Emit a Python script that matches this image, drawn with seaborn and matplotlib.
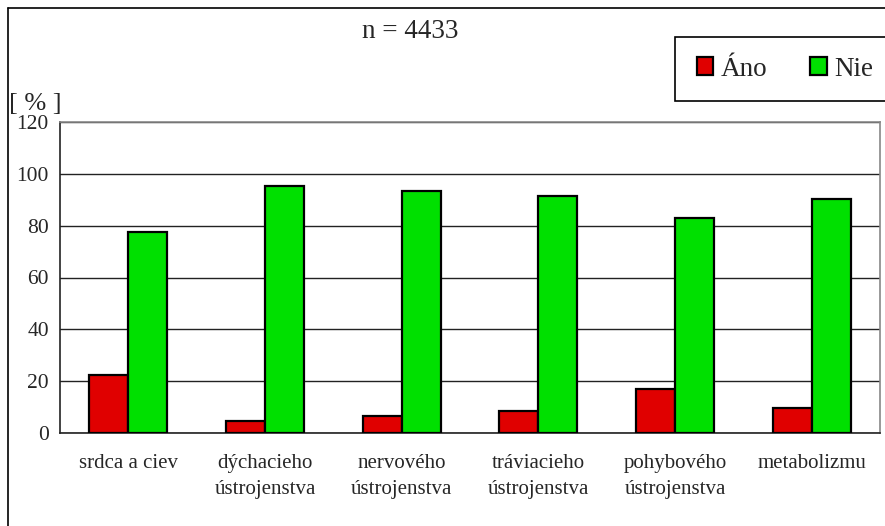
import matplotlib
matplotlib.use("Agg")
import matplotlib.pyplot as plt
from matplotlib.patches import Rectangle
from matplotlib.lines import Line2D
import pandas as pd
import seaborn as sns

kategorie = ["srdca a ciev", "dýchacieho\nústrojenstva", "nervového\nústrojenstva",
             "tráviacieho\nústrojenstva", "pohybového\nústrojenstva", "metabolizmu"]
ano = [22.3, 4.7, 6.6, 8.6, 17.1, 9.7]
nie = [77.7, 95.3, 93.4, 91.4, 82.9, 90.3]
odpovede = ["Áno", "Nie"]
farby = {"Áno": "#e00000", "Nie": "#00e000"}

df = pd.DataFrame({
    "kategoria": kategorie * 2,
    "odpoved": ["Áno"] * len(kategorie) + ["Nie"] * len(kategorie),
    "hodnota": ano + nie,
})

sns.set_style("white")
plt.rcParams["font.family"] = ["Liberation Serif", "DejaVu Serif"]

fig = plt.figure(figsize=(8.85, 5.26), dpi=100)
W, H = 885, 526
ax = fig.add_axes([60 / W, (H - 433) / H, (880 - 60) / W, (433 - 122) / H])

sns.barplot(data=df, x="kategoria", y="hodnota", hue="odpoved", hue_order=odpovede,
            palette=farby, saturation=1, width=0.57, edgecolor="black", linewidth=1.6,
            legend=False, ax=ax, zorder=3)

ax.set_xlim(-0.5, len(kategorie) - 0.5)
ax.set_ylim(0, 120)
ax.set_yticks(range(0, 121, 20))
ax.tick_params(axis="y", labelsize=15.5, direction="out", length=6, width=1, color="#222222", pad=2)
ax.set_xticks(range(len(kategorie)))
ax.set_xticklabels(kategorie, linespacing=1.5)
ax.tick_params(axis="x", which="major", length=0, labelsize=15, pad=15)
ax.set_xticks([i + 0.5 for i in range(-1, len(kategorie))], minor=True)
ax.tick_params(axis="x", which="minor", direction="inout", length=12, width=1, color="#333333")
ax.set_xlabel("")
ax.set_ylabel("")
ax.grid(axis="y", color="#222222", linewidth=1, zorder=0)
ax.spines["left"].set_color("#222222")
ax.spines["bottom"].set_color("#222222")
ax.spines["top"].set_color("#888888")
ax.spines["right"].set_color("#888888")
for s in ax.spines.values():
    s.set_linewidth(1.2)

# nadpis a jednotka
fig.text(410 / W, 1 - 32 / H, "n = 4433", ha="center", va="center", fontsize=19.5)
fig.text(35 / W, 1 - 104 / H, "[ % ]", ha="center", va="center", fontsize=19)

# vonkajsi ramik
fig.add_artist(Line2D([8 / W, 8 / W], [0, 1 - 8 / H], color="black", linewidth=1.2))
fig.add_artist(Line2D([8 / W, 1], [1 - 8 / H, 1 - 8 / H], color="black", linewidth=1.2))

# legenda
fig.add_artist(Rectangle((675 / W, 1 - 101 / H), 220 / W, 64 / H, transform=fig.transFigure,
                         facecolor="white", edgecolor="black", linewidth=1.2))
handles = [Rectangle((0, 0), 1, 1, facecolor=farby[o], edgecolor="black", linewidth=1.6) for o in odpovede]
fig.legend(handles, odpovede, loc="center", bbox_to_anchor=(785 / W, 1 - 69 / H), ncol=2,
           frameon=False, fontsize=19.5, handlelength=0.62, handleheight=0.62,
           handletextpad=0.26, columnspacing=1.6, borderaxespad=0)

fig.savefig("out.png", dpi=100)
